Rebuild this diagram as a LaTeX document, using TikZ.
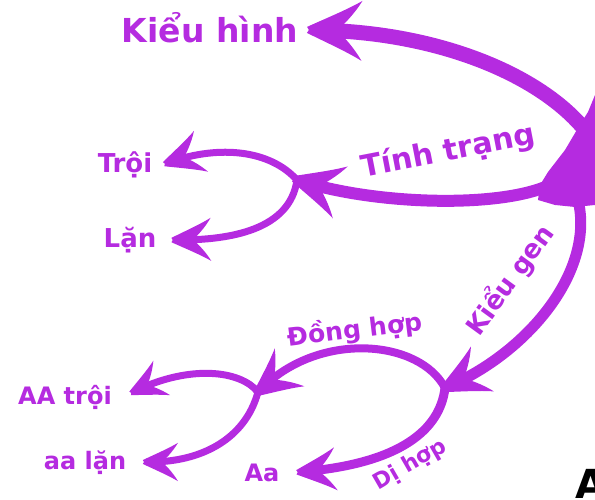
\documentclass[tikz,border=0pt]{standalone}
\usepackage{fontspec}
\setmainfont{DejaVu Sans}
\definecolor{pur}{HTML}{B52BE0}
\tikzset{
  lbl/.style={text=pur,font=\bfseries\fontsize{#1}{#1}\selectfont,inner sep=1pt},
  shaft/.style={draw=pur,line width=#1,line cap=round,shorten >=4pt},
}
\newcommand\ahead[3]{%
  \begin{scope}[shift={(#1)},rotate=#2,scale=#3]
    \fill[pur] (0.1,0.06) .. controls (-0.3,0.25) and (-0.7,0.42) .. (-1,0.6)
      .. controls (-0.85,0.35) and (-0.6,0.05) .. (-0.3,-0.16) -- (0,-0.1) -- cycle;
    \fill[pur] (0.1,-0.06) .. controls (-0.3,-0.25) and (-0.7,-0.42) .. (-1,-0.6)
      .. controls (-0.85,-0.35) and (-0.6,-0.05) .. (-0.3,0.16) -- (0,0.1) -- cycle;
  \end{scope}}
\begin{document}
\begin{tikzpicture}[x=1pt,y=1pt]
\useasboundingbox (0,0) rectangle (595,500);
% hub
\fill[pur] (540,315) -- (548,328) -- (565,350) -- (578,372) -- (588,388) -- (595,405)
  -- (595,295) -- (575,293) -- (555,295) -- (538,300) -- cycle;
% coordinates
\coordinate (hubA) at (585,370);
\coordinate (hubB) at (550,315);
\coordinate (hubC) at (578,300);
\coordinate (tipKH) at (312,470);
\coordinate (jTT) at (297,320);
\coordinate (tipTr) at (167,337);
\coordinate (tipLn) at (175,260);
\coordinate (jKG) at (445,112);
\coordinate (jDH) at (258,108);
\coordinate (tipAa) at (300,28);
\coordinate (tipAA) at (133,108);
\coordinate (tipaa) at (146,38);
% shafts
\draw[shaft=15pt,shorten >=9pt] (hubA) .. controls (540,425) and (440,467) .. (tipKH);
\ahead{tipKH}{179}{50}
\draw[shaft=12pt,shorten >=7pt] (hubB) .. controls (500,292) and (380,295) .. (jTT);
\ahead{jTT}{164}{45}
\draw[shaft=7pt] (jTT) .. controls (270,350) and (220,355) .. (tipTr);
\ahead{tipTr}{199}{36}
\draw[shaft=7pt] (jTT) .. controls (290,270) and (230,260) .. (tipLn);
\ahead{tipLn}{181}{36}
\draw[shaft=11pt,shorten >=6pt] (hubC) .. controls (595,230) and (530,150) .. (jKG);
\ahead{jKG}{207}{42}
\draw[shaft=8pt] (jKG) .. controls (420,160) and (320,170) .. (jDH);
\ahead{jDH}{218}{40}
\draw[shaft=9pt,shorten >=5pt] (jKG) .. controls (440,70) and (400,37) .. (tipAa);
\ahead{tipAa}{185}{36}
\draw[shaft=7pt] (jDH) .. controls (240,130) and (190,135) .. (tipAA);
\ahead{tipAA}{206}{32}
\draw[shaft=7pt] (jDH) .. controls (245,60) and (200,38) .. (tipaa);
\ahead{tipaa}{180}{32}
% labels
\node[lbl=33] (kh) at (210,472) {Kiểu hình};
\node[lbl=26] (tr) at (125,335) {Trội};
\node[lbl=26] (ln) at (130,260) {Lặn};
\node[lbl=30,rotate=11] (tt) at (448,348) {Tính trạng};
\node[lbl=26,rotate=54] (kg) at (510,220) {Kiểu gen};
\node[lbl=25,rotate=7] (dh) at (355,170) {Đồng hợp};
\node[lbl=24] (AA) at (65,103) {AA trội};
\node[lbl=24] (aa) at (85,37) {aa lặn};
\node[lbl=24] (Aa) at (262,27) {Aa};
\node[lbl=22,rotate=30] (dih) at (410,35) {Dị hợp};
\node[anchor=north,inner sep=0pt,font=\bfseries\fontsize{40}{40}\selectfont] (Ablk) at (591,31) {A};
\end{tikzpicture}
\end{document}
